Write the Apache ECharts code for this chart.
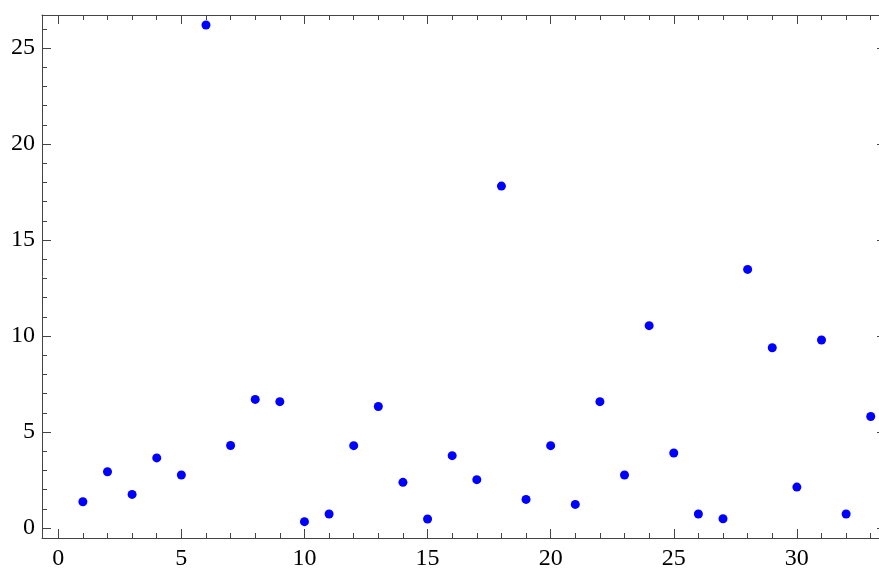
<!DOCTYPE html>
<html>
<head>
<meta charset="utf-8">
<script src="https://cdn.jsdelivr.net/npm/echarts@6/dist/echarts.min.js"></script>
<style>
html,body{margin:0;padding:0;background:#fff;overflow:hidden;width:879px;height:569px;}
#chart{width:900px;height:569px;}
</style>
</head>
<body>
<div id="chart"></div>
<script>
// Data
var xValues = [1,2,3,4,5,6,7,8,9,10,11,12,13,14,15,16,17,18,19,20,21,22,23,24,25,26,27,28,29,30,31,32,33];
var yValues = [1.37,2.93,1.75,3.65,2.76,26.2,4.30,6.70,6.58,0.33,0.73,4.29,6.33,2.38,0.47,3.77,2.52,17.81,1.49,4.29,1.23,6.58,2.76,10.54,3.91,0.73,0.48,13.47,9.39,2.13,9.79,0.73,5.81];
var xMajorTicks = [0,5,10,15,20,25,30];
var xMinorTicks = [1,2,3,4,6,7,8,9,11,12,13,14,16,17,18,19,21,22,23,24,26,27,28,29,31,32,33];
var yMajorTicks = [0,5,10,15,20,25];
var yMinorTicks = [1,2,3,4,6,7,8,9,11,12,13,14,16,17,18,19,21,22,23,24,26];

var X_MIN = -0.66, X_MAX = 33.62, Y_MIN = -0.52, Y_MAX = 26.72;
var frameColor = '#444';
var labelFont = {fontFamily: '"Liberation Serif", "Times New Roman", serif', fontSize: 24, color: '#000'};

function mkAxis(kind, pos, ticks, len, showLabel, showLine) {
  return {
    type: 'value',
    position: pos,
    min: kind === 'x' ? X_MIN : Y_MIN,
    max: kind === 'x' ? X_MAX : Y_MAX,
    offset: 0,
    axisLine: {show: showLine, onZero: false, lineStyle: {color: frameColor, width: 1}},
    axisTick: {show: true, inside: true, length: len, customValues: ticks, lineStyle: {color: frameColor, width: 1}},
    axisLabel: showLabel ? Object.assign({show: true, customValues: ticks, margin: kind === 'x' ? 9 : 7}, labelFont) : {show: false},
    splitLine: {show: false}
  };
}

var pointData = xValues.map(function (x, i) { return [x, yValues[i]]; });

var option = {
  animation: false,
  backgroundColor: '#fff',
  grid: {left: 42, top: 15, right: 14, bottom: 31, containLabel: false, outerBoundsMode: 'none'},
  xAxis: [
    mkAxis('x', 'bottom', xMajorTicks, 9, true, true),
    mkAxis('x', 'bottom', xMinorTicks, 5, false, false),
    mkAxis('x', 'top', xMajorTicks, 9, false, true),
    mkAxis('x', 'top', xMinorTicks, 5, false, false)
  ],
  yAxis: [
    mkAxis('y', 'left', yMajorTicks, 9, true, true),
    mkAxis('y', 'left', yMinorTicks, 5, false, false),
    mkAxis('y', 'right', yMajorTicks, 9, false, true),
    mkAxis('y', 'right', yMinorTicks, 5, false, false)
  ],
  series: [{
    type: 'scatter',
    xAxisIndex: 0,
    yAxisIndex: 0,
    data: pointData,
    symbol: 'circle',
    symbolSize: 9,
    itemStyle: {color: '#0000ff', opacity: 1},
    emphasis: {disabled: true}
  }]
};
var chart = echarts.init(document.getElementById('chart'), null, {renderer: 'canvas'});
chart.setOption(option);
</script>
</body>
</html>
